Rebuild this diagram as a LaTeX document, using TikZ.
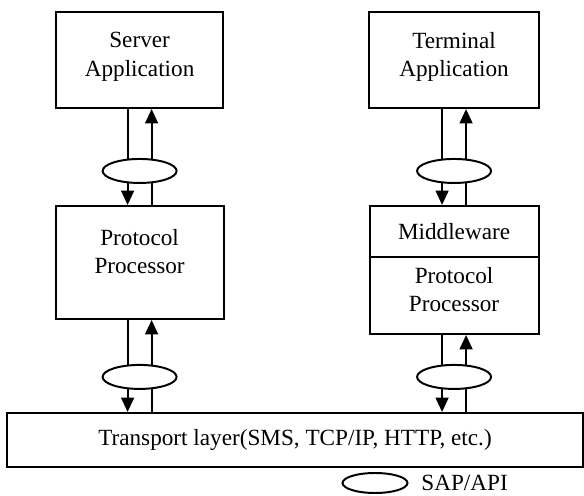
\documentclass[tikz,border=0pt]{standalone}
\usepackage{fontspec}
\setmainfont{Liberation Serif}
\usetikzlibrary{arrows.meta,positioning,shapes.geometric}

\begin{document}
\begin{tikzpicture}[node distance=2.4cm and 3.6cm, every node/.style={font=\fontsize{16.5}{20}\selectfont}, box/.style={draw,line width=1.4pt,minimum height=2.4cm,align=center,inner sep=0pt}, sap/.style={ellipse,draw,line width=1.4pt,fill=white,minimum width=1.85cm,minimum height=0.6cm,inner sep=0pt}, flow/.style={line width=1.5pt,-{Triangle[length=3.6mm,width=3.2mm]}}]
\useasboundingbox (0,0) rectangle (14.6,12.375);
\node[box,minimum width=4.175cm] (srvapp) at (3.49,10.875) {Server\\Application\\[-12pt]};
\node[box,minimum width=4.2cm,minimum height=2.825cm,below=of srvapp] (srvproc) {Protocol\\Processor\\[-4pt]};
\node[box,minimum width=4.25cm,right=of srvapp] (termapp) {Terminal\\Application\\[-12pt]};
\node[box,minimum width=4.225cm,minimum height=1.275cm,below=of termapp] (mware) {Middleware};
\node[box,minimum width=4.225cm,minimum height=1.925cm,below=-1.4pt of mware] (termproc) {Protocol\\Processor\\[-11pt]};
\node[box,minimum width=14.4cm,minimum height=1.35cm] (transport) at (7.375,1.375) {Transport layer(SMS, TCP/IP, HTTP, etc.)};
% arrows between the layers
\draw[flow] ([xshift=-3mm]srvapp.south) -- ([xshift=-3mm]srvapp.south |- srvproc.north);
\draw[flow] ([xshift=3mm]srvapp.south |- srvproc.north) -- ([xshift=3mm]srvapp.south);
\draw[flow] ([xshift=-3mm]srvproc.south) -- ([xshift=-3mm]srvproc.south |- transport.north);
\draw[flow] ([xshift=3mm]srvproc.south |- transport.north) -- ([xshift=3mm]srvproc.south);
\draw[flow] ([xshift=-3mm]termapp.south) -- ([xshift=-3mm]termapp.south |- mware.north);
\draw[flow] ([xshift=3mm]termapp.south |- mware.north) -- ([xshift=3mm]termapp.south);
\draw[flow] ([xshift=-3mm]termproc.south) -- ([xshift=-3mm]termproc.south |- transport.north);
\draw[flow] ([xshift=3mm]termproc.south |- transport.north) -- ([xshift=3mm]termproc.south);
% access points
\node[sap,below=1.225cm of srvapp] (sap1) {};
\node[sap,below=1.225cm of termapp] (sap2) {};
\node[sap,below=1.1cm of srvproc] (sap3) {};
\node[sap,below=0.725cm of termproc] (sap4) {};
% legend
\node[sap,minimum width=1.625cm,minimum height=0.5cm] (key) at (9.375,0.3) {};
\node[right=2mm of key] (keytext) {SAP/API};
\end{tikzpicture}
\end{document}
